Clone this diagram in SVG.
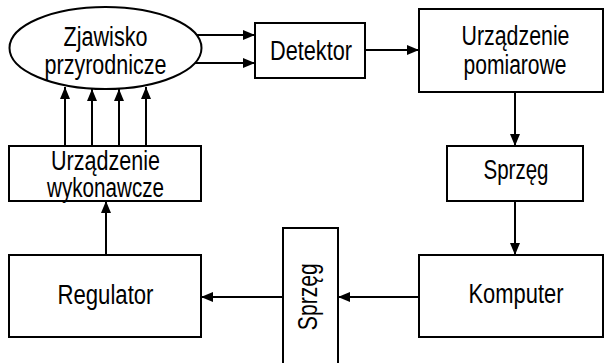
<svg xmlns="http://www.w3.org/2000/svg" width="605" height="363" viewBox="0 0 605 363">
  <defs>
    <marker id="arrow" markerUnits="userSpaceOnUse" markerWidth="12" markerHeight="10" refX="12" refY="5" orient="auto">
      <path d="M0,0 L12,5 L0,10 z" fill="#000"/>
    </marker>
    <style>
      .box { fill: #fff; stroke: #000; stroke-width: 2; }
      .lbl { font-family: "Liberation Sans Narrow", "Arial Narrow", "Liberation Sans", Arial, sans-serif; font-size: 27px; fill: #000; text-anchor: middle; }
      .wire { fill: none; stroke: #000; stroke-width: 2; }
      .arr { marker-end: url(#arrow); }
    </style>
  </defs>
  <rect width="605" height="363" fill="#fff"/>

  <!-- connectors -->
  <g id="connectors">
    <line class="wire arr" x1="196" y1="35" x2="255" y2="35"/>
    <line class="wire arr" x1="195" y1="63" x2="255" y2="63"/>
    <line class="wire arr" x1="365" y1="50" x2="419" y2="50"/>
    <line class="wire arr" x1="515" y1="92" x2="515" y2="146"/>
    <line class="wire arr" x1="515" y1="201" x2="515" y2="255"/>
    <line class="wire arr" x1="419" y1="297" x2="338" y2="297"/>
    <line class="wire arr" x1="283" y1="297" x2="201" y2="297"/>
    <line class="wire arr" x1="106" y1="255" x2="106" y2="201"/>
    <line class="wire arr" x1="65" y1="146" x2="65" y2="87"/>
    <line class="wire arr" x1="92" y1="146" x2="92" y2="89"/>
    <line class="wire arr" x1="119" y1="146" x2="119" y2="89"/>
    <line class="wire arr" x1="146" y1="146" x2="146" y2="87"/>
  </g>

  <g id="zjawisko">
    <ellipse class="box" cx="105.5" cy="48" rx="96" ry="41"/>
    <text class="lbl" x="105.5" y="45.5" textLength="84" lengthAdjust="spacingAndGlyphs">Zjawisko</text>
    <text class="lbl" x="105.5" y="74" textLength="122" lengthAdjust="spacingAndGlyphs">przyrodnicze</text>
  </g>

  <g id="detektor">
    <rect class="box" x="255" y="23" width="110" height="55"/>
    <text class="lbl" x="311" y="60" textLength="82" lengthAdjust="spacingAndGlyphs">Detektor</text>
  </g>

  <g id="urzadzenie-pomiarowe">
    <rect class="box" x="419" y="9" width="184" height="83"/>
    <text class="lbl" x="515.5" y="45" textLength="108" lengthAdjust="spacingAndGlyphs">Urządzenie</text>
    <text class="lbl" x="515" y="74" textLength="103" lengthAdjust="spacingAndGlyphs">pomiarowe</text>
  </g>

  <g id="sprzeg-1">
    <rect class="box" x="447" y="146" width="136" height="55"/>
    <text class="lbl" x="516" y="179" textLength="65" lengthAdjust="spacingAndGlyphs">Sprzęg</text>
  </g>

  <g id="komputer">
    <rect class="box" x="419" y="255" width="184" height="82"/>
    <text class="lbl" x="516" y="303" textLength="95" lengthAdjust="spacingAndGlyphs">Komputer</text>
  </g>

  <g id="sprzeg-2">
    <rect class="box" x="283" y="228" width="55" height="145"/>
    <text class="lbl" transform="translate(316.5,296.7) rotate(-90)" x="0" y="0" textLength="67" lengthAdjust="spacingAndGlyphs">Sprzęg</text>
  </g>

  <g id="regulator">
    <rect class="box" x="9" y="255" width="192" height="82"/>
    <text class="lbl" x="105.5" y="304" textLength="96" lengthAdjust="spacingAndGlyphs">Regulator</text>
  </g>

  <g id="urzadzenie-wykonawcze">
    <rect class="box" x="9" y="146" width="192" height="55"/>
    <text class="lbl" x="105.5" y="170" textLength="109" lengthAdjust="spacingAndGlyphs">Urządzenie</text>
    <text class="lbl" x="105.5" y="196.5" textLength="117" lengthAdjust="spacingAndGlyphs">wykonawcze</text>
  </g>
</svg>
